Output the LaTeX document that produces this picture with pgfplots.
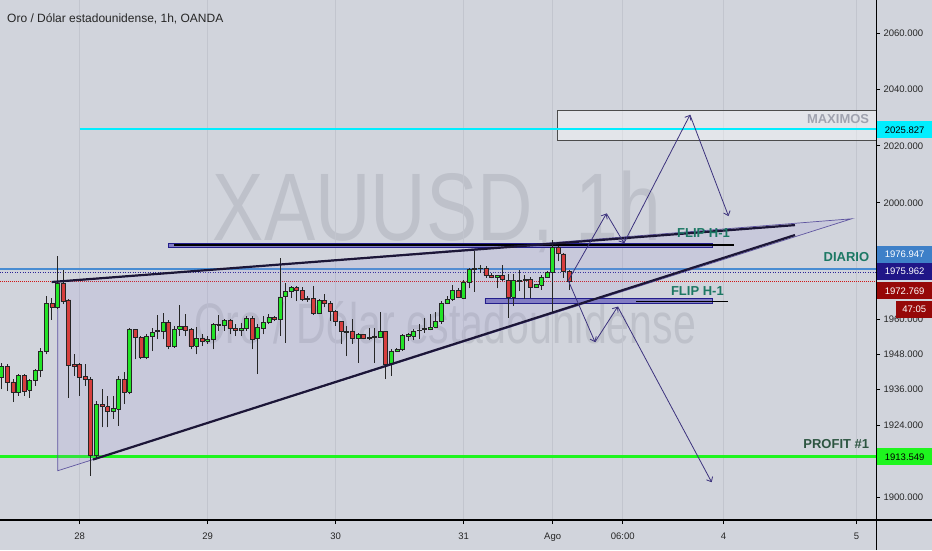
\documentclass[border=0pt]{standalone}
\usepackage{pgfplots}
\pgfplotsset{compat=1.18}
\usepackage{pgfplotstable}
\usetikzlibrary{arrows.meta}
\usepackage{fontspec}
\setmainfont{Liberation Sans}

\definecolor{bg}{RGB}{209,212,220}
\definecolor{gridc}{RGB}{194,197,206}
\definecolor{wm}{RGB}{190,193,202}
\definecolor{cgreen}{RGB}{35,228,40}
\definecolor{cred}{RGB}{214,62,62}
\definecolor{cyanl}{RGB}{0,238,255}
\definecolor{limel}{RGB}{30,245,30}
\definecolor{bluel}{RGB}{72,140,210}
\definecolor{bluebox}{RGB}{62,128,200}
\definecolor{navyl}{RGB}{45,35,150}
\definecolor{navybox}{RGB}{32,22,135}
\definecolor{redl}{RGB}{210,20,20}
\definecolor{redbox}{RGB}{150,8,8}
\definecolor{tealt}{RGB}{28,120,100}
\definecolor{profitt}{RGB}{45,85,65}
\definecolor{maxt}{RGB}{160,163,175}
\definecolor{trend}{RGB}{28,22,55}
\definecolor{tri}{RGB}{95,85,160}
\definecolor{trifill}{RGB}{150,140,215}
\definecolor{arr}{RGB}{60,50,125}
\definecolor{flipd}{RGB}{35,30,140}
\definecolor{flipf}{RGB}{130,125,195}

% hourly candles, bar 0 = 28 00:00
\pgfplotstableread{
bar o h l c
-14 1940.1 1945.1 1936.1 1943.8
-13 1943.8 1944.5 1935.5 1938.6
-12 1938.6 1939.5 1931.8 1935.2
-11 1935.2 1941.2 1933.9 1940.7
-10 1940.7 1941.2 1933.9 1935.5
-9 1935.9 1939.5 1933.3 1939.0
-8 1939.0 1942.9 1937.2 1942.4
-7 1942.4 1950.1 1940.1 1948.8
-6 1948.8 1967.8 1947.9 1965.2
-5 1965.2 1967.3 1959.8 1964.1
-4 1964.1 1981.5 1963.3 1972.0
-3 1972.0 1976.9 1965.0 1966.1
-2 1966.5 1966.7 1933.3 1944.2
-1 1944.5 1947.9 1940.7 1944.0
0 1944.5 1945.1 1933.9 1940.1
1 1940.3 1944.5 1937.2 1939.5
2 1939.5 1940.1 1907.2 1913.8
3 1913.8 1932.2 1912.7 1931.0
4 1931.0 1936.1 1923.3 1930.2
5 1930.2 1933.9 1923.3 1928.6
6 1928.8 1933.9 1926.1 1929.6
7 1929.4 1940.7 1923.8 1939.5
8 1939.5 1941.8 1931.1 1935.2
9 1935.2 1957.0 1934.4 1956.4
10 1956.4 1956.6 1946.2 1953.8
11 1953.8 1954.1 1946.2 1946.8
12 1946.8 1954.7 1946.2 1954.1
13 1954.1 1957.0 1949.0 1955.5
14 1955.6 1961.2 1953.0 1956.1
15 1955.9 1962.1 1953.0 1958.9
16 1958.9 1959.8 1949.6 1950.5
17 1950.7 1957.6 1950.2 1956.4
18 1956.4 1964.6 1954.1 1957.3
19 1957.3 1961.6 1954.1 1956.2
20 1956.4 1957.0 1949.6 1950.7
21 1950.7 1957.3 1947.9 1953.3
22 1953.3 1954.7 1950.7 1952.2
23 1952.4 1954.1 1951.6 1953.0
24 1953.0 1958.7 1949.6 1958.1
25 1957.8 1961.2 1955.9 1958.1
26 1957.8 1960.1 1955.9 1959.5
27 1959.5 1960.1 1954.7 1956.6
28 1956.6 1958.1 1954.1 1956.1
29 1956.1 1958.7 1954.1 1956.6
30 1956.6 1960.8 1955.9 1960.1
31 1960.1 1960.8 1949.6 1953.0
32 1953.2 1958.1 1941.2 1957.0
33 1956.6 1961.0 1954.7 1958.7
34 1958.7 1961.6 1958.1 1960.6
35 1960.4 1961.0 1959.3 1959.8
36 1959.8 1980.9 1954.1 1967.5
37 1967.6 1972.4 1951.9 1969.5
38 1969.5 1971.2 1967.3 1970.7
39 1970.7 1971.2 1966.1 1969.8
40 1969.8 1971.0 1966.1 1966.7
41 1967.1 1967.9 1965.9 1966.8
42 1966.9 1971.3 1961.4 1961.8
43 1961.8 1966.7 1961.6 1966.4
44 1966.4 1968.4 1963.9 1965.2
45 1965.2 1966.1 1959.3 1962.7
46 1962.7 1963.0 1957.6 1959.0
47 1959.0 1959.3 1951.5 1955.7
48 1955.8 1957.6 1947.3 1955.5
49 1955.9 1959.9 1951.5 1953.4
50 1953.4 1955.3 1945.1 1954.7
51 1954.7 1955.0 1953.0 1953.4
52 1953.7 1956.8 1952.7 1953.5
53 1954.1 1957.0 1945.1 1953.8
54 1953.8 1962.2 1953.6 1955.7
55 1955.7 1955.9 1939.5 1944.5
56 1944.8 1949.6 1940.6 1948.8
57 1948.8 1950.2 1948.6 1949.6
58 1949.6 1955.0 1949.2 1954.5
59 1954.2 1955.3 1952.5 1954.7
60 1954.2 1956.5 1952.7 1955.9
61 1956.0 1958.2 1953.0 1956.2
62 1956.3 1960.2 1955.3 1956.6
63 1956.5 1961.6 1956.1 1957.2
64 1957.2 1962.5 1956.8 1959.1
65 1959.0 1966.3 1958.3 1965.2
66 1965.2 1967.8 1965.0 1966.7
67 1966.7 1971.8 1966.3 1969.7
68 1969.7 1970.7 1967.0 1967.2
69 1967.0 1973.2 1966.7 1972.7
70 1972.7 1977.5 1970.4 1976.9
71 1977.0 1983.3 1969.3 1977.3
72 1977.2 1978.4 1975.8 1977.5
73 1977.3 1978.1 1974.1 1975.0
74 1975.0 1975.8 1973.9 1974.1
75 1974.1 1975.2 1970.4 1975.0
76 1975.0 1978.4 1972.9 1973.5
77 1973.3 1975.4 1960.4 1967.5
78 1967.5 1975.4 1964.4 1973.3
79 1972.9 1976.9 1969.5 1973.2
80 1973.2 1975.2 1966.7 1973.4
81 1973.5 1974.3 1967.2 1970.9
82 1970.9 1972.1 1970.7 1971.8
83 1971.6 1975.2 1970.1 1974.3
84 1974.3 1976.4 1974.1 1976.1
85 1976.1 1987.0 1962.0 1984.6
86 1984.4 1985.0 1979.8 1982.7
87 1982.3 1982.7 1974.1 1976.4
88 1976.4 1976.9 1970.1 1972.8
}\candles

\begin{document}
\begin{tikzpicture}
\fill[bg] (0pt,0pt) rectangle (932pt,550pt);
\node[anchor=base, text=wm, font=\fontsize{96}{96}\selectfont, xscale=0.8, inner sep=0pt] at (437pt,310pt) {XAUUSD, 1h};
\node[anchor=base, text=wm, font=\fontsize{57}{57}\selectfont, xscale=0.72, inner sep=0pt] at (445pt,207pt) {Oro / Dólar estadounidense};

\begin{axis}[
  at={(0pt,30pt)}, anchor=south west,
  scale only axis, width=876pt, height=520pt,
  xmin=-14.32, xmax=143.1,
  % escala logaritmica del precio
  y coord trafo/.code={\pgfmathparse{1000*ln(#1/1900)}},
  y coord inv trafo/.code={\pgfmathparse{1900*exp(#1/1000)}},
  ymin=1892.85, ymax=2071.97,
  axis x line*=bottom, axis y line*=right,
  axis line style={draw=none},
  xtick={0,23,46,69,85,97.6,115.7,139.6},
  xticklabels={28,29,30,31,Ago,06:00,4,5},
  ytick={1900,1912,1924,1936,1948,1960,1980,2000,2020,2040,2060},
  yticklabels={1900.000,,1924.000,1936.000,1948.000,1960.000,,2000.000,2020.000,2040.000,2060.000},
  tick align=outside, major tick length=4pt,
  tick style={black, line width=0.8pt},
  xmajorgrids, major grid style={gridc, line width=0.8pt},
  ticklabel style={font=\fontsize{9.5}{11}\selectfont, text=black!85},
  xticklabel style={yshift=-5pt},
  /pgf/number format/assume math mode=true,
]
% zona de maximos y niveles
\addplot[draw=black!70, fill=white, fill opacity=0.4, line width=0.9pt]
  coordinates {(85.82,2021.89) (143.1,2021.89) (143.1,2032.47) (85.82,2032.47) (85.82,2021.89)};
\addplot[cyanl, line width=2.2pt] coordinates {(0.05,2025.827) (143.1,2025.827)};
\addplot[limel, line width=2.2pt] coordinates {(-14.32,1913.549) (143.1,1913.549)};
\addplot[bluel, line width=2.2pt] coordinates {(-14.32,1976.947) (143.1,1976.947)};
\addplot[navyl, line width=1pt, dash pattern=on 1pt off 1.5pt] coordinates {(-14.32,1975.962) (143.1,1975.962)};
\addplot[redl, line width=0.9pt, dash pattern=on 1pt off 1pt] coordinates {(-14.32,1972.769) (143.1,1972.769)};

% triangulo
\addplot[draw=tri, line width=0.7pt, fill=trifill, fill opacity=0.15]
  coordinates {(-3.95,1972.65) (138.72,1994.45) (-3.95,1908.81) (-3.95,1972.65)};

% flip H-1
\addplot[draw=flipd, fill=flipf, line width=0.9pt]
  coordinates {(15.92,1984.69) (113.75,1984.69) (113.75,1986.07) (15.92,1986.07) (15.92,1984.69)};
\addplot[black, line width=1.2pt] coordinates {(17,1985.38) (117.57,1985.38)};
\addplot[draw=flipd, fill=flipf, line width=0.9pt]
  coordinates {(72.83,1965.19) (113.71,1965.19) (113.71,1966.90) (72.83,1966.90) (72.83,1965.19)};
\addplot[black, line width=1.2pt] coordinates {(100,1966.04) (116.55,1966.04)};

% velas
\pgfplotstablegetrowsof{\candles}
\pgfmathtruncatemacro\lastrow{\pgfplotsretval-1}
\pgfplotsforeachungrouped \i in {0,...,\lastrow}{%
  \pgfplotstablegetelem{\i}{bar}\of\candles \let\cx\pgfplotsretval
  \pgfplotstablegetelem{\i}{o}\of\candles \let\co\pgfplotsretval
  \pgfplotstablegetelem{\i}{h}\of\candles \let\ch\pgfplotsretval
  \pgfplotstablegetelem{\i}{l}\of\candles \let\cl\pgfplotsretval
  \pgfplotstablegetelem{\i}{c}\of\candles \let\cc\pgfplotsretval
  \pgfmathsetmacro\xa{\cx-0.36}%
  \pgfmathsetmacro\xb{\cx+0.36}%
  \ifdim\cc pt>\co pt \def\col{cgreen}\else\def\col{cred}\fi
  \edef\tmp{%
    \noexpand\addplot[black!85, line width=0.8pt] coordinates {(\cx,\cl) (\cx,\ch)};
    \noexpand\addplot[draw=black!85, fill=\col, line width=0.7pt]
      coordinates {(\xa,\co) (\xb,\co) (\xb,\cc) (\xa,\cc) (\xa,\co)};
  }\tmp
}

% lineas de tendencia
\addplot[trend, line width=2.2pt] coordinates {(-5.03,1972.65) (128.54,1992.30)};
\addplot[trend, line width=2.2pt] coordinates {(2.39,1912.53) (128.54,1988.84)};

% escenarios
\addplot[arr, line width=0.8pt, -{Straight Barb[length=4pt,width=7pt]}] coordinates {(87.8,1973.17) (94.66,1996.29)};
\addplot[arr, line width=0.8pt, -{Straight Barb[length=4pt,width=7pt]}] coordinates {(94.66,1996.29) (97.81,1986.07)};
\addplot[arr, line width=0.8pt, -{Straight Barb[length=4pt,width=7pt]}] coordinates {(97.81,1986.07) (109.67,2030.95)};
\addplot[arr, line width=0.8pt, -{Straight Barb[length=4pt,width=7pt]}] coordinates {(109.67,2030.95) (116.59,1995.42)};
\addplot[arr, line width=0.8pt, -{Straight Barb[length=4pt,width=7pt]}] coordinates {(87.8,1973.17) (92.6,1952.11)};
\addplot[arr, line width=0.8pt, -{Straight Barb[length=4pt,width=7pt]}] coordinates {(92.6,1952.11) (96.68,1964.16)};
\addplot[arr, line width=0.8pt, -{Straight Barb[length=4pt,width=7pt]}] coordinates {(96.68,1964.16) (113.57,1904.96)};

% textos
\node[anchor=east, inner sep=0pt, text=maxt, font=\bfseries\fontsize{13}{13}\selectfont] at (axis cs:141.9,2029.6) {MAXIMOS};
\node[anchor=east, inner sep=0pt, text=tealt, font=\bfseries\fontsize{13}{13}\selectfont] at (axis cs:141.9,1981.2) {DIARIO};
\node[anchor=east, inner sep=0pt, text=profitt, font=\bfseries\fontsize{13}{13}\selectfont] at (axis cs:141.9,1917.8) {PROFIT \#1};
\node[inner sep=0pt, text=tealt, font=\bfseries\fontsize{13}{13}\selectfont] at (axis cs:112.1,1989.7) {FLIP H-1};
\node[inner sep=0pt, text=tealt, font=\bfseries\fontsize{13}{13}\selectfont] at (axis cs:111.0,1969.6) {FLIP H-1};
\end{axis}

% ejes
\draw[black, line width=1.3pt] (0pt,30pt) -- (932pt,30pt);
\draw[black, line width=1pt] (876pt,0pt) -- (876pt,550pt);

% etiquetas de precio
\tikzset{pl/.style={anchor=west, inner sep=0pt, minimum width=56pt, minimum height=17pt, font=\fontsize{9.5}{11}\selectfont}}
\node[pl, fill=cyanl, text=black] at (876.5pt,420pt) {2025.827};
\node[pl, fill=bluebox, text=white] at (876.5pt,296pt) {1976.947};
\node[pl, fill=navybox, text=white] at (876.5pt,278.5pt) {1975.962};
\node[pl, fill=redbox, text=white] at (876.5pt,259.2pt) {1972.769};
\node[anchor=west, inner sep=0pt, minimum width=36pt, minimum height=17pt, fill=redbox, text=white, font=\fontsize{9.5}{11}\selectfont] at (896pt,241pt) {47:05};
\node[pl, fill=limel, text=black] at (876.5pt,93.2pt) {1913.549};

\node[anchor=base west, inner sep=0pt, text=black!85, font=\fontsize{12}{12}\selectfont] at (7pt,527.3pt) {Oro / Dólar estadounidense, 1h, OANDA};

\pgfresetboundingbox
\useasboundingbox (0pt,0pt) rectangle (932pt,550pt);
\end{tikzpicture}
\end{document}
